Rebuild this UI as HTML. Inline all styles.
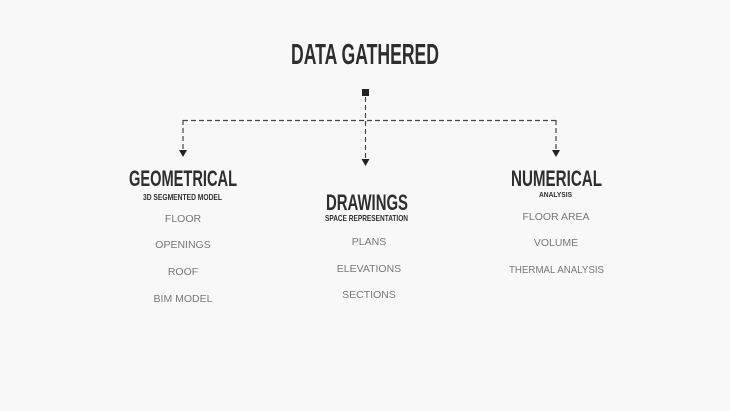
<!DOCTYPE html>
<html><head><meta charset="utf-8"><style>
html,body{margin:0;padding:0;background:#f8f8f8;}
svg{display:block}
.h{font-family:"Liberation Sans Narrow","Liberation Sans",sans-serif;font-weight:bold;fill:#2e2e2e}
.i{font-family:"Liberation Sans",sans-serif;fill:#777;font-size:10.5px}
</style></head><body>
<svg width="730" height="411" viewBox="0 0 730 411">
<rect width="730" height="411" fill="#f8f8f8"/>
<text class="h" x="291" y="64" font-size="29" textLength="148" lengthAdjust="spacingAndGlyphs">DATA GATHERED</text>
<rect x="362" y="89" width="7" height="7" fill="#222"/>
<g stroke="#444" stroke-width="1.2" stroke-dasharray="5,3" fill="none">
<line x1="365.5" y1="97" x2="365.5" y2="160"/>
<line x1="183" y1="120.5" x2="556" y2="120.5"/>
<line x1="183" y1="120" x2="183" y2="150"/>
<line x1="556" y1="120" x2="556" y2="150"/>
</g>
<g fill="#222">
<polygon points="179,150 187,150 183,157"/>
<polygon points="552,150 560,150 556,157"/>
<polygon points="361.5,159 369.5,159 365.5,166"/>
</g>
<text class="h" x="129" y="186" font-size="22" textLength="108" lengthAdjust="spacingAndGlyphs">GEOMETRICAL</text>
<text class="h" x="143" y="200" font-size="8.5" textLength="79" lengthAdjust="spacingAndGlyphs">3D SEGMENTED MODEL</text>
<text class="i" x="183" y="222" text-anchor="middle">FLOOR</text>
<text class="i" x="183" y="248" text-anchor="middle">OPENINGS</text>
<text class="i" x="183" y="275" text-anchor="middle">ROOF</text>
<text class="i" x="183" y="302" text-anchor="middle">BIM MODEL</text>

<text class="h" x="326" y="210" font-size="22" textLength="82" lengthAdjust="spacingAndGlyphs">DRAWINGS</text>
<text class="h" x="325" y="221" font-size="8.5" textLength="83" lengthAdjust="spacingAndGlyphs">SPACE REPRESENTATION</text>
<text class="i" x="369" y="245" text-anchor="middle">PLANS</text>
<text class="i" x="369" y="272" text-anchor="middle">ELEVATIONS</text>
<text class="i" x="369" y="298" text-anchor="middle">SECTIONS</text>

<text class="h" x="511" y="186" font-size="22" textLength="91" lengthAdjust="spacingAndGlyphs">NUMERICAL</text>
<text class="h" x="539" y="197" font-size="7.5" textLength="33" lengthAdjust="spacingAndGlyphs">ANALYSIS</text>
<text class="i" x="556" y="220" text-anchor="middle">FLOOR AREA</text>
<text class="i" x="556" y="246" text-anchor="middle">VOLUME</text>
<text class="i" x="509" y="273" textLength="95" lengthAdjust="spacingAndGlyphs">THERMAL ANALYSIS</text>
</svg>
</body></html>
